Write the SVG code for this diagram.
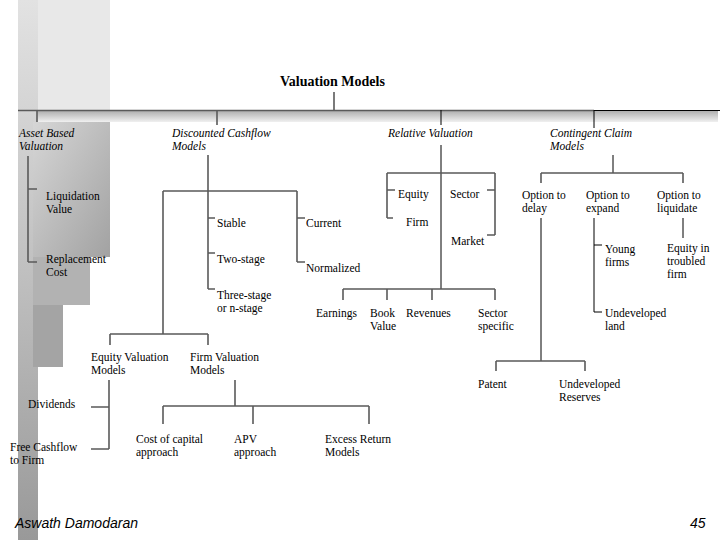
<svg xmlns="http://www.w3.org/2000/svg" width="720" height="540" viewBox="0 0 720 540">
<style>
text{font-family:"Liberation Serif","Times New Roman",serif;font-size:11.5px;fill:#000}
.it{font-style:italic}
.ti{font-weight:bold;font-size:14px}
.ft{font-family:"Liberation Sans",Arial,sans-serif;font-style:italic;font-size:14px}
.g{stroke:#5a5a5a;stroke-width:1.6;fill:none}
.k{stroke:#000;stroke-width:1;fill:none}
</style>
<defs>
<linearGradient id="barA" x1="0" y1="0" x2="0" y2="1">
<stop offset="0" stop-color="#e2e2e2"/><stop offset="0.5" stop-color="#c0c0c0"/><stop offset="1" stop-color="#999"/>
</linearGradient>
<linearGradient id="barB" x1="0" y1="0" x2="1" y2="1">
<stop offset="0" stop-color="#d6d6d6"/><stop offset="1" stop-color="#a2a2a2"/>
</linearGradient>
<linearGradient id="band" x1="0" y1="0" x2="0" y2="1">
<stop offset="0" stop-color="#b0b0b0"/><stop offset="1" stop-color="#f0f0f0"/>
</linearGradient>
</defs>
<rect width="720" height="540" fill="#fff"/>
<g id="decor">
<rect x="18" y="0" width="92" height="110" fill="#e8e8e8"/>
<rect x="18" y="0" width="20" height="540" fill="url(#barA)"/>
<rect x="33" y="122" width="77" height="135" fill="url(#barB)"/>
<rect x="33" y="257" width="57" height="48" fill="#b2b2b2"/>
<rect x="33" y="305" width="30" height="62" fill="#a4a4a4"/>
<rect x="37" y="111" width="681" height="11" fill="url(#band)"/>
</g>
<g id="connectors">
<path class="g" d="M18 110.5H594M334 92V110M37 110V122M217 110V125"/>
<path class="k" d="M594 110.5H720M441 110V125M594 110V128"/>
<path class="g" d="M28 156V262M28 189H37M28 262H37"/>
<path class="g" d="M208 155V289M208 218H215M208 253H215M208 289H215"/>
<path class="g" d="M163 191H297M297 191V262M297 218H305M297 262H305M163 191V334"/>
<path class="g" d="M110 334H208M110 334V345M208 334V345"/>
<path class="g" d="M109 380V449M91 407H109M91 449H109"/>
<path class="g" d="M235 380V406M163 406H369M163 406V424M253 406V424M369 406V424"/>
<path class="k" d="M441 145V289"/>
<path class="g" d="M387 173H495M387 173V218M387 190H395M387 218H393M495 173V235M487 190H495M487 235H495"/>
<path class="g" d="M343 289H495M343 289V300M387 289V300M432 289V300M495 289V300"/>
<path class="k" d="M613 155V173"/>
<path class="g" d="M541 173H683M541 173V183M683 173V183"/>
<path class="k" d="M541 218V361"/>
<path class="g" d="M496 361H585M496 361V371M585 361V371"/>
<path class="k" d="M594 218V312M594 245H602M594 312H602M683 218V238"/>
</g>
<g id="n-title"><text class="ti" x="280" y="86">Valuation Models</text></g>
<g id="n-asset"><text class="it" x="19" y="136.5">Asset Based</text><text class="it" x="19" y="149.5">Valuation</text></g>
<g id="n-dcf"><text class="it" x="172" y="136.5">Discounted Cashflow</text><text class="it" x="172" y="149.5">Models</text></g>
<g id="n-rel"><text class="it" x="388" y="136.5">Relative Valuation</text></g>
<g id="n-cc"><text class="it" x="550" y="136.5">Contingent Claim</text><text class="it" x="550" y="149.5">Models</text></g>
<g id="n-liq"><text x="46" y="199.5">Liquidation</text><text x="46" y="212.5">Value</text></g>
<g id="n-rep"><text x="46" y="263">Replacement</text><text x="46" y="276">Cost</text></g>
<g id="n-stable"><text x="217" y="227">Stable</text></g>
<g id="n-two"><text x="217" y="263">Two-stage</text></g>
<g id="n-three"><text x="217" y="298.5">Three-stage</text><text x="217" y="311.5">or n-stage</text></g>
<g id="n-current"><text x="306" y="227">Current</text></g>
<g id="n-normalized"><text x="306" y="272">Normalized</text></g>
<g id="n-eqv"><text x="91" y="360.5">Equity Valuation</text><text x="91" y="373.5">Models</text></g>
<g id="n-fv"><text x="190" y="360.5">Firm Valuation</text><text x="190" y="373.5">Models</text></g>
<g id="n-div"><text x="28" y="408">Dividends</text></g>
<g id="n-fcf"><text x="10" y="450.5">Free Cashflow</text><text x="10" y="463.5">to Firm</text></g>
<g id="n-coc"><text x="136" y="442.5">Cost of capital</text><text x="136" y="455.5">approach</text></g>
<g id="n-apv"><text x="234" y="442.5">APV</text><text x="234" y="455.5">approach</text></g>
<g id="n-er"><text x="325" y="442.5">Excess Return</text><text x="325" y="455.5">Models</text></g>
<g id="n-equity"><text x="398" y="198">Equity</text></g>
<g id="n-firm"><text x="406" y="226">Firm</text></g>
<g id="n-sector"><text x="450" y="198">Sector</text></g>
<g id="n-market"><text x="451" y="245">Market</text></g>
<g id="n-earn"><text x="316" y="317">Earnings</text></g>
<g id="n-book"><text x="370" y="317">Book</text><text x="370" y="330">Value</text></g>
<g id="n-rev"><text x="406" y="317">Revenues</text></g>
<g id="n-secspec"><text x="478" y="317">Sector</text><text x="478" y="330">specific</text></g>
<g id="n-delay"><text x="522" y="198.5">Option to</text><text x="522" y="211.5">delay</text></g>
<g id="n-expand"><text x="586" y="198.5">Option to</text><text x="586" y="211.5">expand</text></g>
<g id="n-liquidate"><text x="657" y="198.5">Option to</text><text x="657" y="211.5">liquidate</text></g>
<g id="n-young"><text x="605" y="252.5">Young</text><text x="605" y="265.5">firms</text></g>
<g id="n-troubled"><text x="667" y="252">Equity in</text><text x="667" y="265">troubled</text><text x="667" y="278">firm</text></g>
<g id="n-land"><text x="605" y="317">Undeveloped</text><text x="605" y="330">land</text></g>
<g id="n-patent"><text x="478" y="388">Patent</text></g>
<g id="n-reserves"><text x="559" y="388">Undeveloped</text><text x="559" y="401">Reserves</text></g>
<g id="footer"><text class="ft" x="15" y="528">Aswath Damodaran</text><text class="ft" x="690" y="528">45</text></g>
</svg>
